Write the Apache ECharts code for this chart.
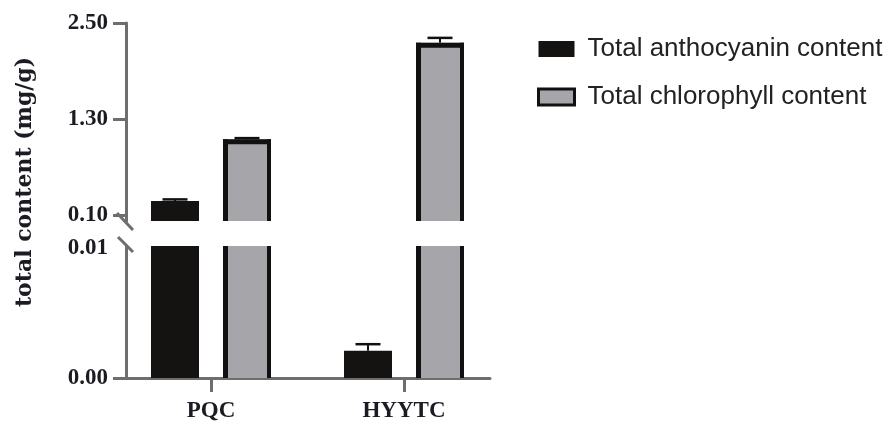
<!DOCTYPE html>
<html><head><meta charset="utf-8">
<script src="https://cdn.jsdelivr.net/npm/echarts@6/dist/echarts.min.js"></script>
<style>html,body{margin:0;padding:0;background:#fff}#c{width:894px;height:425px}</style>
</head><body><div id="c"></div>
<script>
const categories = ['PQC', 'HYYTC'];
const seriesNames = ['Total anthocyanin content', 'Total chlorophyll content'];
const anthocyanin = [0.275, 0.0021];
const anthocyaninErr = [0.02, 0.0005];
const chlorophyll = [1.046, 2.254];
const chlorophyllErr = [0.015, 0.06];
const upperTicks = [0.10, 1.30, 2.50];
const lowerTicks = [0.00, 0.01];
const lowerTickMarks = [0.00];
const yName = 'total content (mg/g)';

const X_MIN = -0.4404, X_MAX = 1.4456;
const AXIS_COLOR = '#6e6e6e';
const TEXT_COLOR = '#1b1b24';
const FILLS = ['#151311', '#a6a5a9'];

function makeRender(k) {
  const fill = FILLS[k];
  return function (params, api) {
    const cs = params.coordSys;
    const x = api.value(0), v = api.value(1), e = api.value(2);
    const base = api.coord([x, 0]);
    const top = api.coord([x, v]);
    const cap = api.coord([x, v + e]);
    const cx = base[0] + (k === 0 ? -36 : 36);
    const w = 48, bw = 5;
    const gTop = cs.y, gBot = cs.y + cs.height;
    const y1 = Math.max(top[1], gTop), y2 = Math.min(base[1], gBot);
    const children = [];
    if (y2 > y1) {
      children.push({ type: 'rect', shape: { x: cx - w / 2, y: y1, width: w, height: y2 - y1 }, style: { fill: fill } });
      if (k === 1) {
        children.push({ type: 'rect', shape: { x: cx - w / 2, y: y1, width: bw, height: y2 - y1 }, style: { fill: '#111' } });
        children.push({ type: 'rect', shape: { x: cx + w / 2 - bw + 1, y: y1, width: bw - 1, height: y2 - y1 }, style: { fill: '#111' } });
        if (top[1] >= gTop) {
          children.push({ type: 'rect', shape: { x: cx - w / 2, y: top[1], width: w, height: bw }, style: { fill: '#111' } });
        }
      }
    }
    if (cap[1] >= gTop && top[1] <= gBot) {
      children.push({ type: 'line', shape: { x1: cx, y1: top[1], x2: cx, y2: cap[1] }, style: { stroke: '#111', lineWidth: 2 } });
      children.push({ type: 'line', shape: { x1: cx - 12.5, y1: cap[1], x2: cx + 12.5, y2: cap[1] }, style: { stroke: '#111', lineWidth: 2.5 } });
    }
    return { type: 'group', children: children };
  };
}

const valuesBySeries = [
  categories.map((c, i) => [i, anthocyanin[i], anthocyaninErr[i]]),
  categories.map((c, i) => [i, chlorophyll[i], chlorophyllErr[i]])
];

const series = [];
[0, 1].forEach(function (g) {
  [0, 1].forEach(function (k) {
    series.push({
      type: 'custom', name: seriesNames[k], xAxisIndex: g, yAxisIndex: g,
      data: valuesBySeries[k], renderItem: makeRender(k), itemStyle: { color: FILLS[k] },
      silent: true
    });
  });
});

const tickLabel = { fontFamily: 'Liberation Serif', fontWeight: 'bold', fontSize: 23, color: TEXT_COLOR };
const axisLine = { show: true, onZero: false, lineStyle: { color: AXIS_COLOR, width: 3 } };

const chart = echarts.init(document.getElementById('c'), null, { renderer: 'canvas' });
chart.setOption({
  animation: false,
  backgroundColor: '#fff',
  grid: [
    { left: 126, width: 364, top: 23, height: 198 },
    { left: 126, width: 364, top: 246, height: 132 }
  ],
  legend: {
    orient: 'vertical', left: 532, top: 31, itemGap: 22, itemWidth: 36, itemHeight: 16,
    icon: 'rect', selectedMode: false,
    textStyle: { fontFamily: 'Liberation Sans', fontSize: 26, color: '#222', padding: [0, 0, 0, 8] },
    data: [
      { name: seriesNames[0], itemStyle: { color: FILLS[0], borderColor: '#111', borderWidth: 0 } },
      { name: seriesNames[1], itemStyle: { color: FILLS[1], borderColor: '#111', borderWidth: 3 } }
    ]
  },
  xAxis: [
    { type: 'value', gridIndex: 0, min: X_MIN, max: X_MAX, show: false },
    {
      type: 'value', gridIndex: 1, min: X_MIN, max: X_MAX,
      axisLine: axisLine,
      axisTick: { show: true, customValues: [0, 1], length: 14, lineStyle: { color: AXIS_COLOR, width: 3 } },
      axisLabel: Object.assign({ customValues: [0, 1], margin: 22, formatter: function (v) { return categories[Math.round(v)]; } }, tickLabel),
      splitLine: { show: false }
    }
  ],
  yAxis: [
    {
      type: 'value', gridIndex: 0, min: 0.025, max: 2.5,
      axisLine: axisLine,
      axisTick: { show: true, customValues: upperTicks, length: 13, lineStyle: { color: AXIS_COLOR, width: 3 } },
      axisLabel: Object.assign({ customValues: upperTicks, margin: 18, formatter: function (v) { return v.toFixed(2); } }, tickLabel),
      splitLine: { show: false }
    },
    {
      type: 'value', gridIndex: 1, min: 0, max: 0.01015,
      axisLine: axisLine,
      axisTick: { show: true, customValues: lowerTickMarks, length: 13, lineStyle: { color: AXIS_COLOR, width: 3 } },
      axisLabel: Object.assign({ customValues: lowerTicks, margin: 18, formatter: function (v) { return v.toFixed(2); } }, tickLabel),
      splitLine: { show: false }
    }
  ],
  series: series
});

const pUp = chart.convertToPixel({ xAxisIndex: 0, yAxisIndex: 0 }, [X_MIN, upperTicks[0]]);
const pLow = chart.convertToPixel({ xAxisIndex: 1, yAxisIndex: 1 }, [X_MIN, 0.01015]);
chart.setOption({
  graphic: [
    { type: 'line', shape: { x1: pUp[0] - 9, y1: pUp[1] - 2, x2: pUp[0] + 7, y2: pUp[1] + 15 }, style: { stroke: AXIS_COLOR, lineWidth: 3 } },
    { type: 'line', shape: { x1: pLow[0] - 8, y1: pLow[1] - 9, x2: pLow[0] + 7, y2: pLow[1] + 6 }, style: { stroke: AXIS_COLOR, lineWidth: 3 } },
    {
      type: 'text', x: 25, y: 182, rotation: Math.PI / 2,
      style: { text: yName, fill: TEXT_COLOR, font: 'bold 22px "DejaVu Serif"', align: 'center', verticalAlign: 'middle' }
    }
  ]
});
</script>
</body></html>
